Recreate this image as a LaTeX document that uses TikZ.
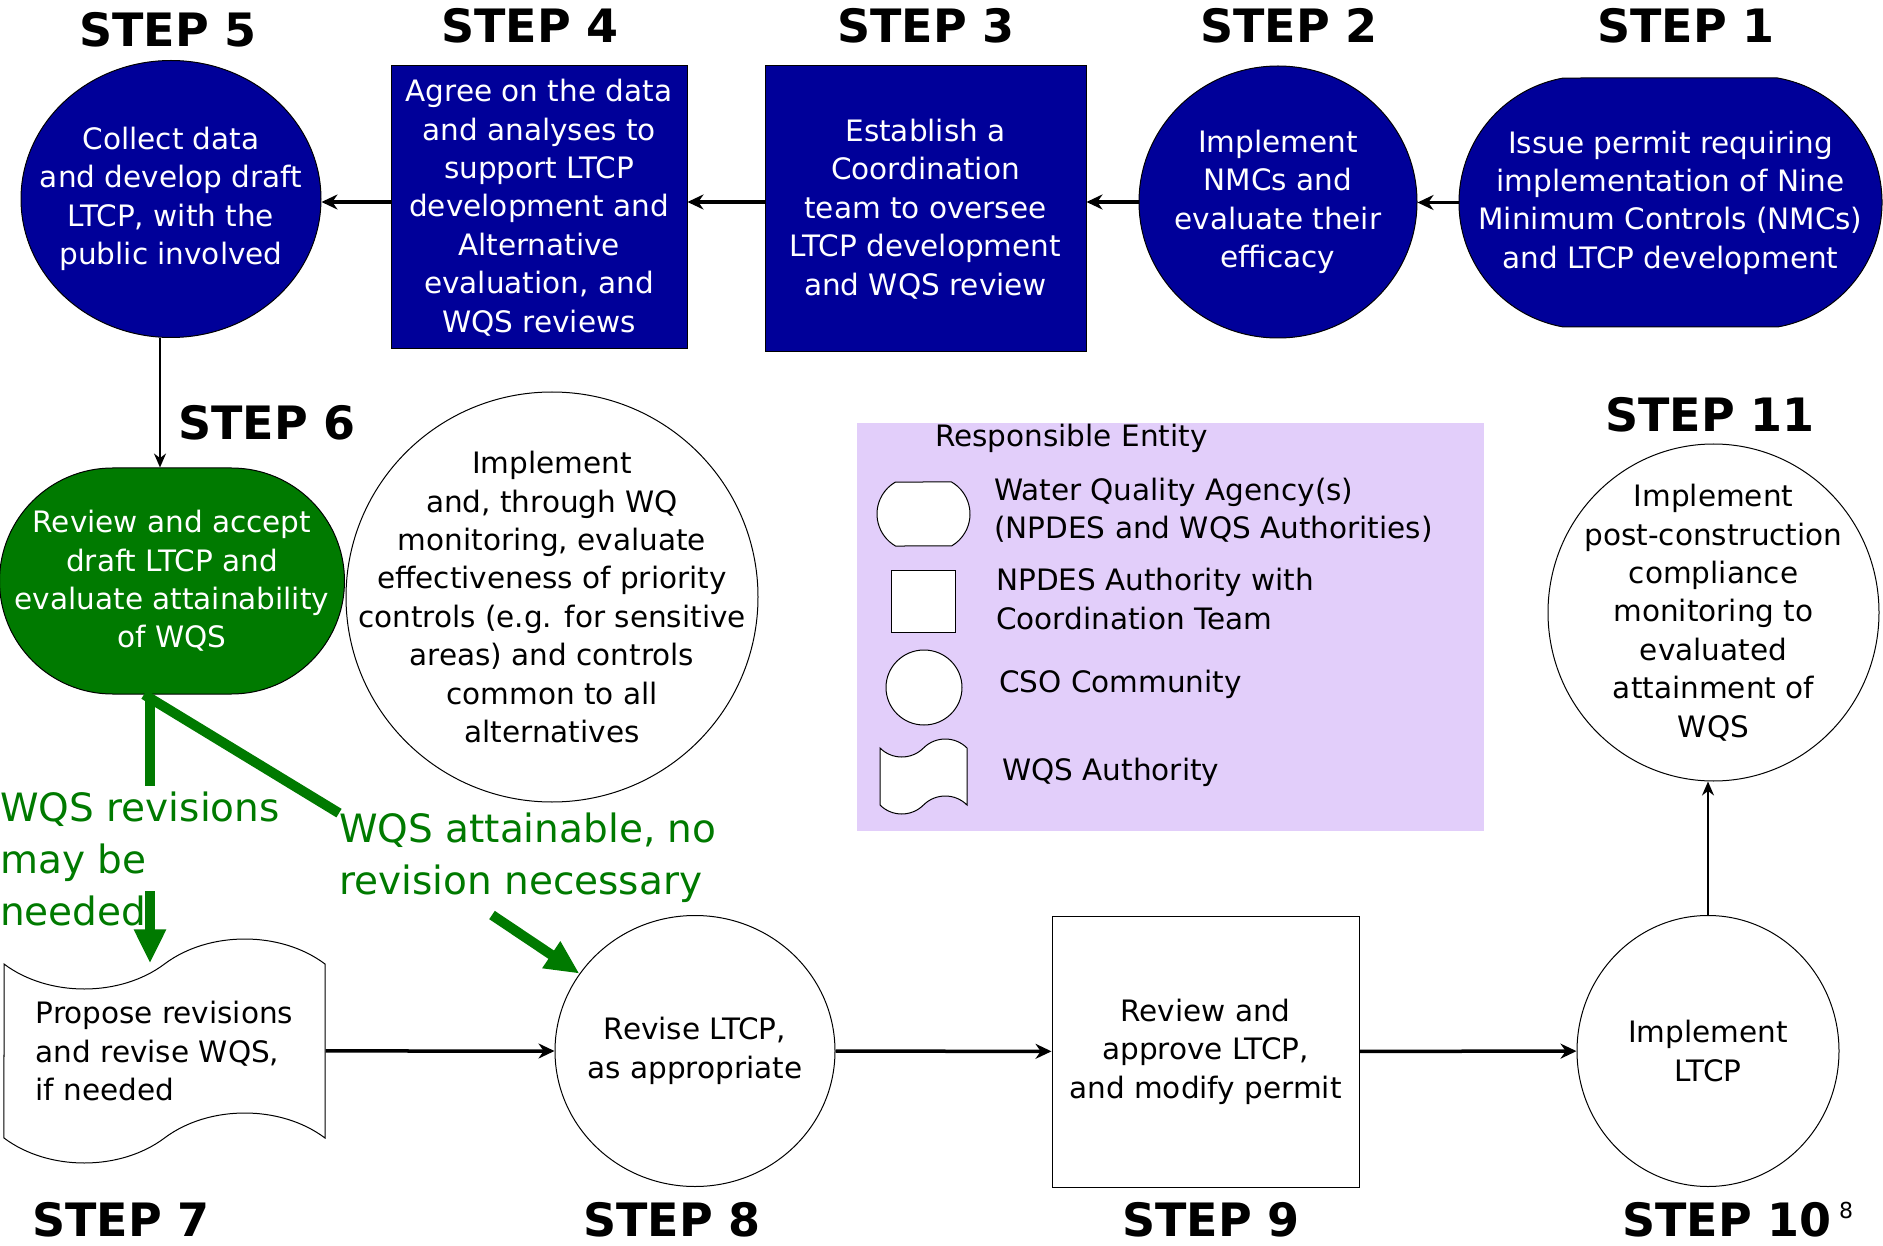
\documentclass[tikz,border=0pt]{standalone}
\usepackage{fontspec}
\setmainfont{DejaVu Sans}
\usetikzlibrary{shapes.geometric,shapes.misc,shapes.symbols,arrows.meta,positioning}

\definecolor{stepblue}{RGB}{0,0,153}
\definecolor{stepgreen}{RGB}{0,122,0}
\definecolor{legendbg}{RGB}{226,206,250}

\newcommand{\bodyfont}{\fontsize{29.5}{38.4}\selectfont}
\newcommand{\stepfont}{\fontsize{46}{50}\selectfont\bfseries}
\newcommand{\notefont}{\fontsize{39}{51.6}\selectfont}

\begin{document}
\begin{tikzpicture}[x=1pt,y=-1pt,
   body/.style={font=\bodyfont, align=center, inner sep=0pt},
   wbody/.style={body, text=white},
   stepno/.style={font=\stepfont, inner sep=0pt},
   note/.style={font=\notefont, text=stepgreen, align=left, inner sep=0pt, anchor=west},
   cso/.style={ellipse, draw, line width=1pt, inner sep=0pt},
   npdes/.style={rectangle, draw, line width=1pt, inner sep=0pt},
   wqa/.style={rounded rectangle, draw, line width=1pt, inner sep=0pt},
   wqsa/.style={tape, draw, line width=1pt, inner sep=0pt},
   dark/.style={fill=stepblue},
   arr/.style={-{Stealth[length=16pt,width=15pt]}, line width=3.5pt},
   thinarr/.style={-{Stealth[length=14pt,width=12pt]}, line width=2pt},
   gline/.style={draw=stepgreen, line width=10pt},
   garr/.style={gline, -{Triangle[length=34pt,width=30pt]}}]

\path[use as bounding box, fill=white] (0,0) rectangle (1883,1246);

% top row, right to left
\node[wqa, dark, minimum width=423pt, minimum height=249pt, rounded rectangle arc length=160,
  label={[wbody]center:{Issue permit requiring\\implementation of Nine\\Minimum Controls (NMCs)\\and LTCP development}}]
  (one) at (1670.5,202.5) {};
\node[cso, dark, minimum width=278pt, minimum height=272pt,
  label={[wbody]center:{Implement\\NMCs and\\evaluate their\\efficacy}}]
  (two) at (1278,202) {};
\node[npdes, dark, wbody, minimum width=321pt, minimum height=286pt] (three) at (925.5,209)
  {Establish a\\Coordination\\team to oversee\\LTCP development\\and WQS review};
\node[npdes, dark, wbody, minimum width=296pt, minimum height=283pt] (four) at (539,207.5)
  {Agree on the data\\and analyses to\\support LTCP\\development and\\Alternative\\evaluation, and\\WQS reviews};
\node[cso, dark, minimum width=300pt, minimum height=277pt,
  label={[wbody]center:{Collect data\\and develop draft\\LTCP, with the\\public involved}}]
  (five) at (171,199) {};

% middle row
\node[wqa, fill=stepgreen, minimum width=345pt, minimum height=226pt,
  label={[wbody]center:{Review and accept\\draft LTCP and\\evaluate attainability\\of WQS}}]
  (six) at (172,581) {};
\node[cso, minimum width=412pt, minimum height=410pt,
  label={[body]center:{Implement\\and, through WQ\\monitoring, evaluate\\effectiveness of priority\\controls (e.g. for sensitive\\areas) and controls\\common to all\\alternatives}}]
  (prio) at (552,597) {};
\node[cso, minimum width=331pt, minimum height=337pt,
  label={[body]center:{Implement\\post-construction\\compliance\\monitoring to\\evaluated\\attainment of\\WQS}}]
  (eleven) at (1713.5,612.5) {};

% bottom row
\node[wqsa, body, align=left, minimum width=321pt, minimum height=224pt, tape bend height=50pt]
  (seven) at (164.5,1051) {Propose revisions\\and revise WQS,\\if needed};
\node[cso, minimum width=280pt, minimum height=271pt,
  label={[body]center:{Revise LTCP,\\as appropriate}}]
  (eight) at (695,1051) {};
\node[npdes, body, minimum width=307pt, minimum height=271pt] (nine) at (1205.5,1051.5)
  {Review and\\approve LTCP,\\and modify permit};
\node[cso, minimum width=262pt, minimum height=271pt,
  label={[body]center:{Implement\\LTCP}}]
  (ten) at (1708,1051) {};

% step numbers
\node[stepno] (lab1) at (1686,26) {STEP 1};
\node[stepno] (lab2) at (1289,26) {STEP 2};
\node[stepno] (lab3) at (926,26) {STEP 3};
\node[stepno] (lab4) at (530,26) {STEP 4};
\node[stepno] (lab5) at (168,30) {STEP 5};
\node[stepno] (lab6) at (267,423) {STEP 6};
\node[stepno] (lab7) at (121,1220) {STEP 7};
\node[stepno] (lab8) at (672,1220) {STEP 8};
\node[stepno] (lab9) at (1211,1220) {STEP 9};
\node[stepno] (lab10) at (1727,1220) {STEP 10};
\node[stepno] (lab11) at (1710,415) {STEP 11};
\node[inner sep=0pt, font=\fontsize{22}{24}\selectfont] (pageno) at (1846,1210) {8};

% legend
\node[rectangle, fill=legendbg, minimum width=627pt, minimum height=408pt] (legend) at (1170.5,627) {};
\node[body, anchor=west] (legtitle) at (935,438) {Responsible Entity};
\node[wqa, fill=white, minimum width=93pt, minimum height=64pt, rounded rectangle arc length=120] (lwqa) at (923.5,514) {};
\node[npdes, fill=white, minimum width=64pt, minimum height=62pt] (lnpdes) at (923,601) {};
\node[cso, fill=white, minimum width=76pt, minimum height=75pt] (lcso) at (924,687.5) {};
\node[wqsa, fill=white, minimum width=87pt, minimum height=75pt, tape bend height=18pt] (lwqs) at (923.5,776.5) {};
\node[body, align=left, anchor=west] (lwqatxt) at (994,510) {Water Quality Agency(s)\\(NPDES and WQS Authorities)};
\node[body, align=left, anchor=west] (lnpdestxt) at (996,599) {NPDES Authority with\\Coordination Team};
\node[body, anchor=west] (lcsotxt) at (999,684) {CSO Community};
\node[body, anchor=west] (lwqstxt) at (1002,772) {WQS Authority};

% green decision labels
\node[note] (revlab) at (0,859) {WQS revisions\\may be\\needed};
\node[note] (attlab) at (339,858) {WQS attainable, no\\revision necessary};

% connectors
\draw[arr] (one.west) -- (one.west -| two.east);
\draw[arr] (two.west) -- (two.west -| three.east);
\draw[arr] (three.west |- two.west) -- (four.east |- two.west);
\draw[arr] (four.west |- two.west) -- (five.east |- two.west);
\draw[thinarr] ([xshift=-11pt]five.south) -- ([xshift=-11pt]five.south |- six.north);

\coordinate (revin) at (150,786);
\coordinate (revout) at (150,891);
\coordinate (attout) at (492,915);
\draw[gline] (six.south -| revin) -- (revin);
\draw[gline] ([xshift=-28pt]six.south) -- (attlab.north west);
\draw[garr] (revout) -- (revout |- seven.north);
\draw[garr] (attout) -- (eight);

\draw[arr] (seven) -- (eight);
\draw[arr] (eight) -- (nine);
\draw[arr] (nine) -- (ten);
\draw[thinarr] (ten.north) -- (ten.north |- eleven.south);

\end{tikzpicture}
\end{document}
